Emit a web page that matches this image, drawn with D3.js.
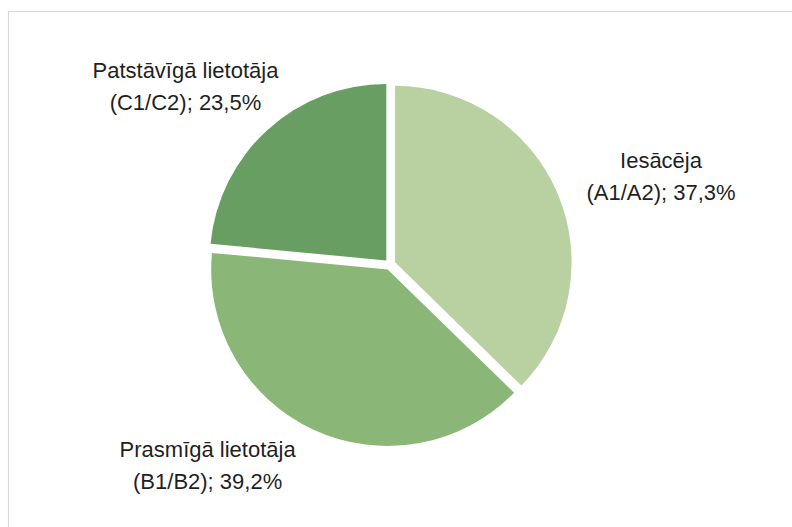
<!DOCTYPE html>
<html>
<head>
<meta charset="utf-8">
<script src="https://cdn.jsdelivr.net/npm/d3@7"></script>
<style>
  html, body { margin: 0; padding: 0; background: #fff; }
  svg { display: block; }
</style>
</head>
<body>
<svg id="chart" width="792" height="527"></svg>
<script>
// ---- data ----
const categories = ["Iesācēja", "Prasmīgā lietotāja", "Patstāvīgā lietotāja"];
const levels = ["(A1/A2)", "(B1/B2)", "(C1/C2)"];
const values = [37.3, 39.2, 23.5];
const valueLabels = ["37,3%", "39,2%", "23,5%"];

// ---- layout / style ----
const W = 792, H = 527;
const cx = 390, cy = 264.5, R = 176.5, explode = 5.5;
const colors = ["#b9d0a1", "#8ab777", "#699e62"];
const labelRadius = 208, lineH = 32, fontSize = 22;
const labelNudge = [[10.6, 4.5], [-58, -16.8], [-2, -1.2]];

const svg = d3.select("#chart");

svg.append("rect")
  .attr("x", 8.5).attr("y", 11.5)
  .attr("width", W).attr("height", H)
  .attr("fill", "#fff")
  .attr("stroke", "#d9d9d9")
  .attr("stroke-width", 1.2);

const pie = d3.pie().sort(null).value(d => d)(values);
const arc = d3.arc().innerRadius(0).outerRadius(R);

const g = svg.append("g").attr("transform", `translate(${cx},${cy})`);

function dirOf(d) {
  const a = (d.startAngle + d.endAngle) / 2;
  return [Math.sin(a), -Math.cos(a)];
}

g.selectAll("path.slice")
  .data(pie)
  .join("path")
  .attr("class", "slice")
  .attr("fill", (d, i) => colors[i])
  .attr("transform", d => {
    const [dx, dy] = dirOf(d);
    return `translate(${dx * explode},${dy * explode})`;
  })
  .attr("d", arc);

// labels
const labels = g.selectAll("g.lbl")
  .data(pie)
  .join("g")
  .attr("class", "lbl");

labels.each(function (d, i) {
  const sel = d3.select(this);
  const t = sel.append("text")
    .attr("font-family", "'Liberation Sans', Arial, sans-serif")
    .attr("font-size", fontSize)
    .attr("fill", "#1f1f1f")
    .attr("text-anchor", "middle");
  const l1 = t.append("tspan").attr("x", 0).attr("y", -8).text(categories[i]);
  const l2 = t.append("tspan").attr("x", 0).attr("y", -8 + lineH).text(levels[i] + "; " + valueLabels[i]);
  const w = Math.max(l1.node().getComputedTextLength(), l2.node().getComputedTextLength());
  const h = lineH * 2;
  const [dx, dy] = dirOf(d);
  const x = dx * labelRadius + dx * w / 2 + labelNudge[i][0];
  const y = dy * labelRadius + dy * h / 2 + labelNudge[i][1];
  sel.attr("transform", `translate(${x},${y})`);
});
</script>
</body>
</html>
